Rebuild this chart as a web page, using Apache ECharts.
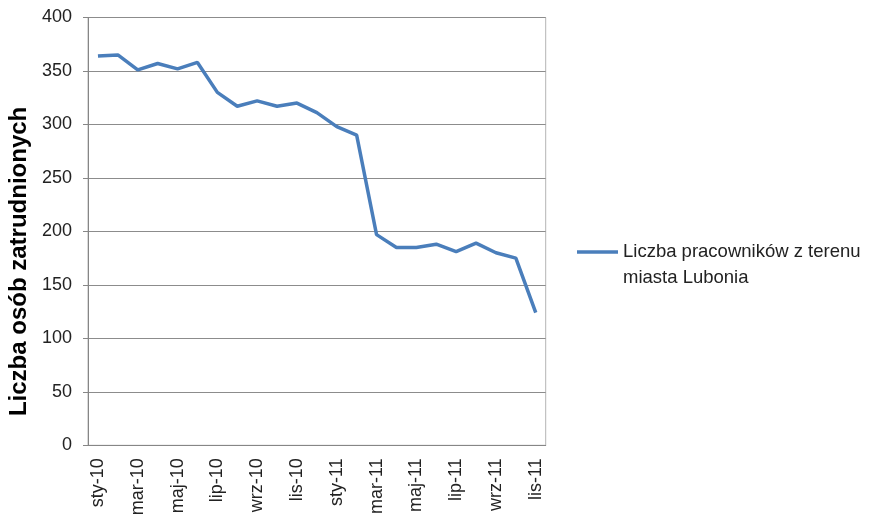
<!DOCTYPE html>
<html>
<head>
<meta charset="utf-8">
<script src="https://cdn.jsdelivr.net/npm/echarts@6/dist/echarts.min.js"></script>
<style>
  html, body { margin: 0; padding: 0; background: #fff; }
  #chart { width: 869px; height: 517px; }
</style>
</head>
<body>
<div id="chart"></div>
<script>
  // miesiące sty-10 .. lis-11
  var months = ['sty-10', 'lut-10', 'mar-10', 'kwi-10', 'maj-10', 'cze-10', 'lip-10', 'sie-10',
    'wrz-10', 'paź-10', 'lis-10', 'gru-10', 'sty-11', 'lut-11', 'mar-11', 'kwi-11', 'maj-11',
    'cze-11', 'lip-11', 'sie-11', 'wrz-11', 'paź-11', 'lis-11']
  var workers = [364, 365, 351, 357, 352, 358, 330, 317, 322, 317, 320, 311, 298, 290,
    197, 185, 185, 188, 181, 189, 180, 175, 124]
  var seriesName = 'Liczba pracowników z terenu miasta Lubonia'
  var yTitle = 'Liczba osób zatrudnionych'

  var font = '"Liberation Sans", Arial, sans-serif'
  var myChart = echarts.init(document.getElementById('chart'))
  var option = {
    animation: false,
    grid: {
      left: 88,
      top: 17.5,
      right: 323.3,
      bottom: 71.7,
      containLabel: false,
      outerBoundsMode: 'none',
      show: true,
      borderColor: '#b4b4b4',
      borderWidth: 1
    },
    legend: {
      left: 577,
      top: 213,
      padding: 0,
      icon: 'rect',
      itemWidth: 41,
      itemHeight: 3.5,
      itemGap: 0,
      data: [seriesName],
      itemStyle: { color: '#4a7ebb' },
      // pusta pierwsza linia, żeby ikona stała przy pierwszym wierszu
      formatter: function () {
        return ' \nLiczba pracowników z terenu\nmiasta Lubonia'
      },
      textStyle: {
        fontFamily: font,
        fontSize: 18.5,
        color: '#222',
        lineHeight: 26
      }
    },
    xAxis: {
      type: 'category',
      data: months,
      boundaryGap: true,
      axisLine: { lineStyle: { color: '#868686', width: 1 } },
      axisTick: { interval: 1, length: 5, lineStyle: { color: '#868686' } },
      axisLabel: {
        interval: 1,
        rotate: 90,
        margin: 13,
        fontFamily: font,
        fontSize: 18,
        color: '#222'
      },
      splitLine: { show: false }
    },
    yAxis: {
      type: 'value',
      min: 0,
      max: 400,
      interval: 50,
      name: yTitle,
      nameLocation: 'middle',
      nameGap: 53,
      nameTextStyle: {
        fontFamily: font,
        fontSize: 24,
        fontWeight: 'bold',
        color: '#000',
        padding: [0, 60, 0, 0]
      },
      axisLine: { show: true, lineStyle: { color: '#868686', width: 1 } },
      axisTick: { show: true, length: 5, lineStyle: { color: '#868686' } },
      axisLabel: {
        margin: 16,
        fontFamily: font,
        fontSize: 18,
        color: '#222'
      },
      splitLine: { lineStyle: { color: '#8c8c8c', width: 1 } }
    },
    series: [
      {
        name: seriesName,
        type: 'line',
        data: workers,
        symbol: 'none',
        lineStyle: { color: '#4a7ebb', width: 3.5 },
        itemStyle: { color: '#4a7ebb' }
      }
    ]
  }
  myChart.setOption(option)
</script>
</body>
</html>
